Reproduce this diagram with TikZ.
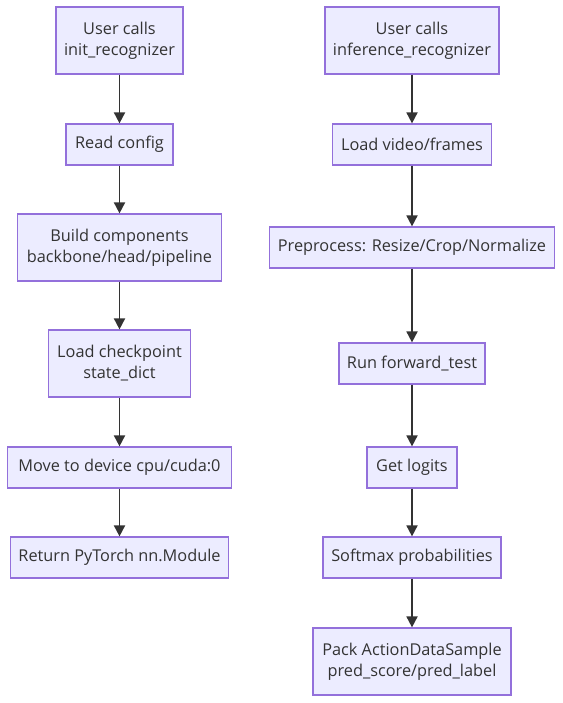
\documentclass[tikz,border=0pt]{standalone}
\usepackage{fontspec}
\setmainfont{Open Sans}
\usetikzlibrary{arrows.meta}
\definecolor{boxfill}{HTML}{ECECFF}
\definecolor{boxline}{HTML}{9370DB}
\definecolor{edgecol}{HTML}{333333}
\definecolor{txtcol}{HTML}{333333}
\begin{document}
\begin{tikzpicture}[x=1pt,y=-1pt,
  box/.style={draw=boxline, fill=boxfill, line width=1.2pt, inner sep=0pt,
    align=center, text=txtcol, font=\fontsize{16.3}{21}\selectfont},
  flow/.style={draw=edgecol, line width=1.8pt, -{Triangle[length=11pt,width=11pt]}}]
\useasboundingbox (0,0) rectangle (562,703);
\fill[white] (0,0) rectangle (562,703);
% left column
\node[box, minimum width=127pt, minimum height=67pt] (l1) at (119.5,40.5) {User calls\\init\_recognizer};
\node[box, minimum width=107pt, minimum height=41pt] (l2) at (119.5,144.5) {Read config};
\node[box, minimum width=204pt, minimum height=67pt] (l3) at (119.5,247.5) {Build components\\backbone/head/pipeline};
\node[box, minimum width=142pt, minimum height=67pt] (l4) at (119.5,363.5) {Load checkpoint\\state\_dict};
\node[box, minimum width=224pt, minimum height=41pt] (l5) at (119.5,467.5) {Move to device cpu/cuda:0};
\node[box, minimum width=218pt, minimum height=41pt] (l6) at (119.5,557.5) {Return PyTorch nn.Module};
% right column
\node[box, minimum width=174pt, minimum height=67pt] (r1) at (412,40.5) {User calls\\inference\_recognizer};
\node[box, minimum width=159pt, minimum height=41pt] (r2) at (412,144.5) {Load video/frames};
\node[box, minimum width=285pt, minimum height=41pt] (r3) at (412,247.5) {Preprocess: Resize/Crop/Normalize};
\node[box, minimum width=146pt, minimum height=41pt] (r4) at (412,363.5) {Run forward\_test};
\node[box, minimum width=90pt, minimum height=41pt] (r5) at (412,467.5) {Get logits};
\node[box, minimum width=178pt, minimum height=41pt] (r6) at (412,557.5) {Softmax probabilities};
\node[box, minimum width=198pt, minimum height=67pt] (r7) at (412,661.5) {Pack ActionDataSample\\pred\_score/pred\_label};
% edges
\draw[flow] (l1) -- (l2);
\draw[flow] (l2) -- (l3);
\draw[flow] (l3) -- (l4);
\draw[flow] (l4) -- (l5);
\draw[flow] (l5) -- (l6);
\draw[flow] (r1) -- (r2);
\draw[flow] (r2) -- (r3);
\draw[flow] (r3) -- (r4);
\draw[flow] (r4) -- (r5);
\draw[flow] (r5) -- (r6);
\draw[flow] (r6) -- (r7);
\end{tikzpicture}
\end{document}
